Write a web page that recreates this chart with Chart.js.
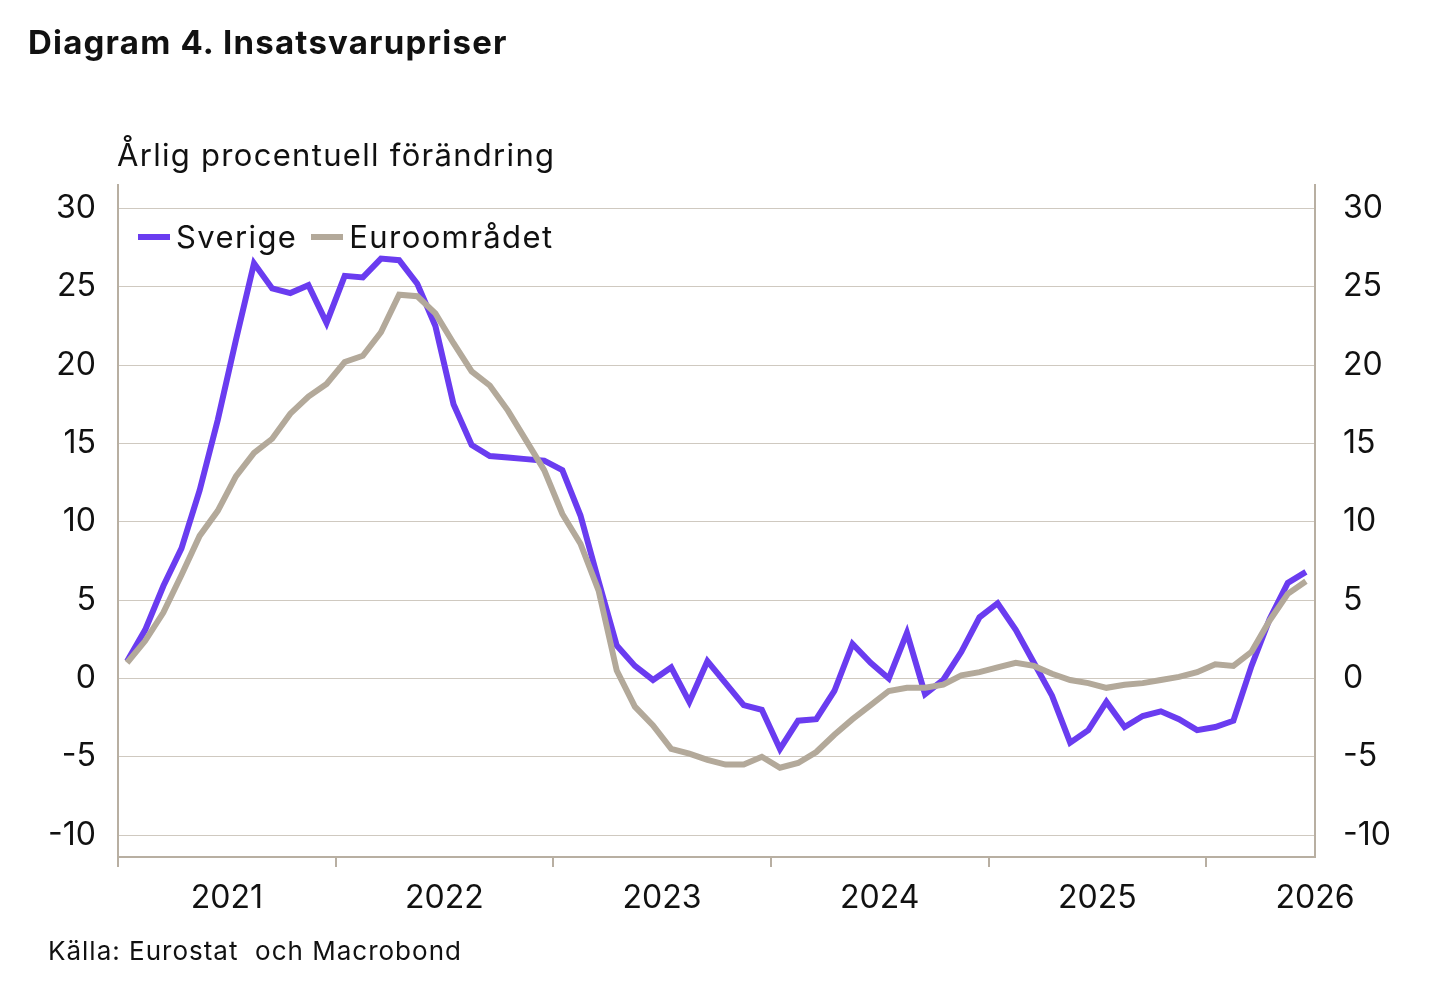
<!DOCTYPE html>
<html><head><meta charset="utf-8">
<script src="https://cdn.jsdelivr.net/npm/chart.js@4"></script>
<style>
body{margin:0;background:#fff;font-family:Inter,"Open Sans",sans-serif;color:#111}
#wrap{position:relative;width:1444px;height:1002px}
canvas{position:absolute;left:0;top:0}
.t{position:absolute;white-space:nowrap}
</style></head><body>
<div id="wrap">
<canvas id="c" width="1444" height="1002"></canvas>
<div class="t" style="left:28px;top:22px;font-size:33px;font-weight:700;letter-spacing:1.2px">Diagram 4. Insatsvarupriser</div>
<div class="t" style="left:117px;top:136px;font-size:31px;letter-spacing:1.3px">Årlig procentuell förändring</div>
<div class="t" style="left:138px;top:218px;font-size:31px;letter-spacing:1.4px;display:flex;align-items:center">
<span style="display:inline-block;width:32px;height:6px;background:#6a3cf0;margin-right:6px"></span>Sverige
<span style="display:inline-block;width:32px;height:6px;background:#b3a99a;margin:0 6px 0 14px"></span>Euroområdet</div>
<div class="t" style="left:48px;top:935px;font-size:26px;letter-spacing:1px">Källa: Eurostat&nbsp; och Macrobond</div>
</div>
<script>
const sverige = [1.1,3.1,5.9,8.3,12.0,16.5,21.6,26.5,24.9,24.6,25.1,22.7,25.7,25.6,26.8,26.7,25.2,22.5,17.5,14.9,14.2,14.1,14.0,13.9,13.3,10.4,6.2,2.1,0.8,-0.1,0.7,-1.5,1.1,-0.3,-1.7,-2.0,-4.5,-2.7,-2.6,-0.8,2.2,1.0,0,2.9,-1.0,-0.1,1.7,3.9,4.8,3.1,1.0,-1.1,-4.1,-3.3,-1.5,-3.1,-2.4,-2.1,-2.6,-3.3,-3.1,-2.7,0.8,3.8,6.1,6.8];
const euro = [1.0,2.4,4.2,6.6,9.1,10.7,12.9,14.4,15.3,16.9,18.0,18.8,20.2,20.6,22.1,24.5,24.4,23.3,21.4,19.6,18.7,17.1,15.2,13.3,10.5,8.6,5.6,0.5,-1.8,-3.0,-4.5,-4.8,-5.2,-5.5,-5.5,-5.0,-5.7,-5.4,-4.7,-3.6,-2.6,-1.7,-0.8,-0.6,-0.6,-0.4,0.2,0.4,0.7,1.0,0.8,0.3,-0.1,-0.3,-0.6,-0.4,-0.3,-0.1,0.1,0.4,0.9,0.8,1.7,3.7,5.4,6.2];
const years = [2021,2022,2023,2024,2025,2026];
const yTicks = [30,25,20,15,10,5,0,-5,-10];

const pts = a => a.map((v,i)=>({x:i+0.5,y:v}));
const axisCol = '#b8afa2';
const tickFont = {family:'Inter, "Open Sans", sans-serif', size:32};
const yAxis = (pos) => ({
  position:pos, min:-11.4, max:31.5,
  afterBuildTicks:s=>{s.ticks=yTicks.map(v=>({value:v}));},
  afterFit:s=>{s.width = pos==='left'?118:129;},
  ticks:{color:'#111',font:tickFont,padding:pos==='left'?22:28},
  grid:{display:pos==='left',color:'#cfc9c0',lineWidth:1,drawTicks:false},
  border:{display:true,color:axisCol,width:2}
});

new Chart(document.getElementById('c'),{
  type:'line',
  data:{datasets:[
    {label:'Euroområdet',data:pts(euro),borderColor:'#b3a99a',borderWidth:6,pointRadius:0,tension:0},
    {label:'Sverige',data:pts(sverige),borderColor:'#6a3cf0',borderWidth:6,pointRadius:0,tension:0}
  ]},
  options:{
    responsive:false,animation:false,
    layout:{padding:{top:185,left:0,right:0,bottom:0}},
    plugins:{legend:{display:false},tooltip:{enabled:false}},
    scales:{
      x:{type:'linear',min:0,max:66,
        afterBuildTicks:s=>{const t=[];for(let v=0;v<=66;v+=6)t.push({value:v});s.ticks=t;},
        afterFit:s=>{s.height=145;},
        ticks:{color:'#111',font:tickFont,padding:12,maxRotation:0,autoSkip:false,
          callback:v=>(v%12===6)?String(years[(v-6)/12]):''},
        grid:{drawOnChartArea:false,tickLength:10,lineWidth:2,
          color:c=>(c.tick&&c.tick.value%12===0)?axisCol:'rgba(0,0,0,0)'},
        border:{display:true,color:axisCol,width:2}
      },
      y:yAxis('left'),
      y2:yAxis('right')
    }
  }
});
</script>
</body></html>
